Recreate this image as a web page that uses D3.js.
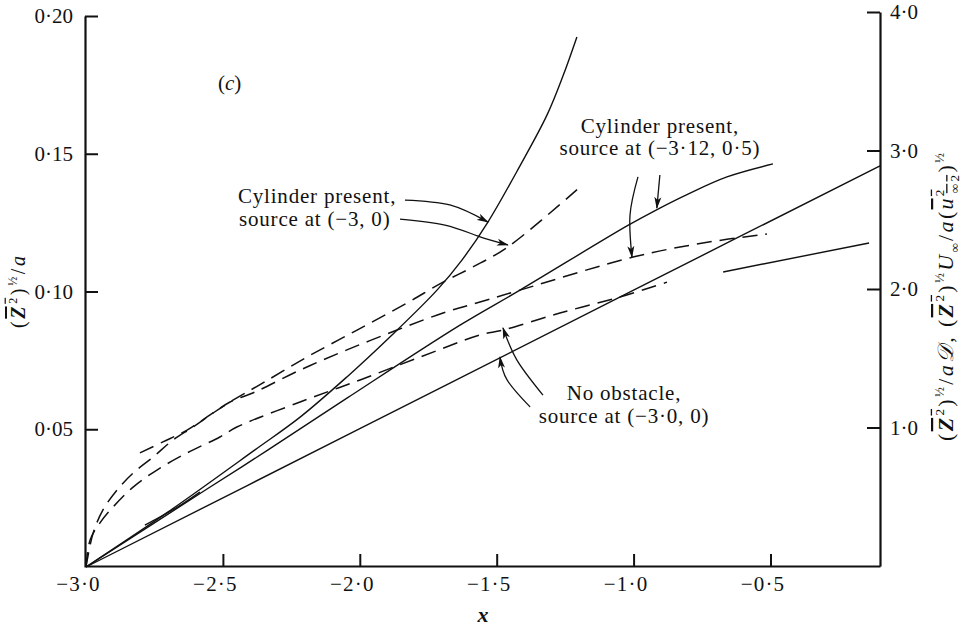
<!DOCTYPE html>
<html>
<head>
<meta charset="utf-8">
<script src="https://cdn.jsdelivr.net/npm/d3@7/dist/d3.min.js"></script>
<style>
body { margin: 0; background: #fff; }
svg text { font-family: "Liberation Serif", "Times New Roman", "DejaVu Serif", serif; fill: #111; }
</style>
</head>
<body>
<svg id="chart" width="963" height="632"></svg>
<script>
/** Tick values for the three axes. */
var X_TICKS  = [-3.0, -2.5, -2.0, -1.5, -1.0, -0.5];
var Y_TICKS  = [0.05, 0.10, 0.15, 0.20];
var Y2_TICKS = [1.0, 2.0, 3.0, 4.0];

/** Solid curves, [x, (Z2)^1/2 / a]. */
var cylSolid = [[-3.0, 0], [-2.7, 0.0200], [-2.383, 0.0425], [-2.218, 0.0544], [-2.047, 0.0690],
    [-1.890, 0.0835], [-1.718, 0.1005], [-1.627, 0.1114], [-1.532, 0.1252], [-1.415, 0.1456],
    [-1.316, 0.1641], [-1.258, 0.1782], [-1.207, 0.1924]];
var offSolid = [[-3.0, 0], [-2.558, 0.0283], [-2.335, 0.0425], [-2.047, 0.0613], [-1.634, 0.0878],
    [-1.415, 0.1005], [-1.024, 0.1238], [-0.904, 0.1303], [-0.805, 0.1352], [-0.659, 0.1416],
    [-0.491, 0.1463]];
var offSolidStart = [[-2.785, 0.0152], [-2.67, 0.0215], [-2.584, 0.0272]];
var freeSolid = [[-3.0, 0], [-2.0, 0.0502], [-1.0, 0.1005], [-0.1, 0.1456]];
var rightSolid = [[-0.673, 0.1071], [-0.140, 0.1176]];

/** Dashed curves. */
var cylDashed = [[-3.0, 0], [-2.974, 0.0123], [-2.938, 0.0207], [-2.887, 0.0279], [-2.828, 0.0341],
    [-2.755, 0.0399], [-2.682, 0.0461], [-2.609, 0.0508], [-2.536, 0.0559], [-2.474, 0.0599],
    [-2.354, 0.0668], [-2.193, 0.0762], [-2.010, 0.0860], [-1.828, 0.0958], [-1.696, 0.1034],
    [-1.587, 0.1089], [-1.459, 0.1162], [-1.196, 0.1379]];
var offDashed = [[-2.803, 0.0414], [-2.719, 0.0454], [-2.631, 0.0497], [-2.536, 0.0559],
    [-2.474, 0.0599], [-2.383, 0.0635], [-2.218, 0.0715], [-2.047, 0.0788], [-1.864, 0.0860],
    [-1.696, 0.0922], [-1.561, 0.0962], [-1.415, 0.1005], [-1.002, 0.1125], [-0.747, 0.1176],
    [-0.513, 0.1209]];
var freeDashed = [[-3.0, 0], [-2.985, 0.0098], [-2.949, 0.0160], [-2.901, 0.0218], [-2.828, 0.0290],
    [-2.741, 0.0352], [-2.631, 0.0414], [-2.511, 0.0472], [-2.449, 0.0508], [-2.218, 0.0599],
    [-1.999, 0.0679], [-1.780, 0.0762], [-1.561, 0.0842], [-1.477, 0.0860], [-1.269, 0.0922],
    [-1.050, 0.0980], [-0.878, 0.1034]];

/** Annotation leaders (data coordinates) and texts. */
var arrows = [
    [[-1.835, 0.1332], [-1.671, 0.1314], [-1.532, 0.1252]],
    [[-1.853, 0.1263], [-1.689, 0.1241], [-1.568, 0.1201], [-1.459, 0.1169]],
    [[-0.984, 0.1416], [-1.013, 0.1278], [-1.006, 0.1125]],
    [[-0.904, 0.1423], [-0.915, 0.1303]],
    [[-1.331, 0.0624], [-1.426, 0.0751], [-1.477, 0.0868]],
    [[-1.378, 0.0581], [-1.462, 0.0679], [-1.488, 0.0762]]
];
var notes = [
    {text: 'Cylinder present,',      x: -2.445, y: 0.1321, anchor: 'start'},
    {text: 'source at (\u22123, 0)',  x: -2.441, y: 0.1238, anchor: 'start'},
    {text: 'Cylinder present,',      x: -0.904, y: 0.1575, anchor: 'middle'},
    {text: 'source at (\u22123\u00b712, 0\u00b75)', x: -0.904, y: 0.1495, anchor: 'middle'},
    {text: 'No obstacle,',           x: -1.035, y: 0.0606, anchor: 'middle'},
    {text: 'source at (\u22123\u00b70, 0)', x: -1.035, y: 0.0523, anchor: 'middle'}
];

var svg = d3.select('#chart');

var x  = d3.scaleLinear().domain([-3.0, -0.1]).range([86, 880]);
var y  = d3.scaleLinear().domain([0, 0.2]).range([567, 16]);
var y2 = d3.scaleLinear().domain([0, 4]).range([566, 12]);

/**
 * Formats a tick value the way the figure prints it: a raised dot and a real minus.
 */
function dotFormat(digits) {
    var f = d3.format('.' + digits + 'f');
    return function(d) { return f(d).replace('.', '\u00b7').replace('-', '\u2212'); };
}

drawAxes();
drawCurves();
drawNotes();
drawTitles();

function drawAxes() {
    var gx = svg.append('g').attr('transform', 'translate(0,566)')
        .call(d3.axisBottom(x).tickValues(X_TICKS).tickSizeInner(-12).tickSizeOuter(0)
            .tickPadding(10).tickFormat(dotFormat(1)));
    var gy = svg.append('g').attr('transform', 'translate(85,0)')
        .call(d3.axisLeft(y).tickValues(Y_TICKS).tickSizeInner(-13).tickSizeOuter(0)
            .tickPadding(12).tickFormat(dotFormat(2)));
    var gr = svg.append('g').attr('transform', 'translate(880,0)')
        .call(d3.axisRight(y2).tickValues(Y2_TICKS).tickSizeInner(-13).tickSizeOuter(0)
            .tickPadding(10).tickFormat(dotFormat(1)));

    [gx, gy, gr].forEach(function(g) {
        g.select('.domain').attr('stroke', '#111').attr('stroke-width', 2.2);
        g.selectAll('.tick line').attr('stroke', '#111').attr('stroke-width', 2);
        g.selectAll('.tick text').attr('font-size', 21).attr('fill', '#111')
            .style('font-family', '"Liberation Serif", "Times New Roman", serif');
    });
    gx.selectAll('.tick text').attr('dx', -8).attr('letter-spacing', 1.2);
    gx.selectAll('.tick line').filter(function(d) { return d === -3.0; }).remove();
}

function drawCurves() {
    var line = d3.line()
        .x(function(d) { return x(d[0]); })
        .y(function(d) { return y(d[1]); })
        .curve(d3.curveCatmullRom.alpha(0.5));

    var solids = [cylSolid, offSolid, offSolidStart, freeSolid, rightSolid];
    var dashed = [cylDashed, offDashed, freeDashed];

    svg.append('g').selectAll('path').data(solids).join('path')
        .attr('d', line).attr('fill', 'none')
        .attr('stroke', '#111').attr('stroke-width', 1.4);
    svg.append('g').selectAll('path').data(dashed).join('path')
        .attr('d', line).attr('fill', 'none')
        .attr('stroke', '#111').attr('stroke-width', 1.5)
        .attr('stroke-dasharray', '15,8');
}

function drawNotes() {
    svg.append('defs').append('marker')
        .attr('id', 'head').attr('viewBox', '0 0 12 8')
        .attr('refX', 11).attr('refY', 4)
        .attr('markerWidth', 12).attr('markerHeight', 8)
        .attr('markerUnits', 'userSpaceOnUse').attr('orient', 'auto')
        .append('path').attr('d', 'M0,0.5 L12,4 L0,7.5 L3,4 Z').attr('fill', '#111');

    var lead = d3.line()
        .x(function(d) { return x(d[0]); })
        .y(function(d) { return y(d[1]); })
        .curve(d3.curveNatural);

    svg.append('g').selectAll('path').data(arrows).join('path')
        .attr('d', lead).attr('fill', 'none')
        .attr('stroke', '#111').attr('stroke-width', 1.3)
        .attr('marker-end', 'url(#head)');

    svg.append('g').selectAll('text').data(notes).join('text')
        .attr('x', function(d) { return x(d.x); })
        .attr('y', function(d) { return y(d.y); })
        .attr('text-anchor', function(d) { return d.anchor; })
        .attr('font-size', 21).attr('letter-spacing', 0.8)
        .text(function(d) { return d.text; });

    var c = svg.append('text').attr('x', x(-2.518)).attr('y', y(0.1731)).attr('font-size', 21);
    c.append('tspan').text('(');
    c.append('tspan').attr('font-style', 'italic').text('c');
    c.append('tspan').text(')');
}

/**
 * Writes a run of pieces into a text element. Each piece may be italic,
 * raised, lowered or overlined.
 */
function rich(t, parts, size) {
    var shift = 0;
    parts.forEach(function(p) {
        var want = p.sup ? -0.42 * size : (p.sub ? 0.28 * size : 0);
        var ts = t.append('tspan').text(p.t).attr('dy', want - shift);
        if (p.dx) ts.attr('dx', p.dx);
        shift = want;
        if (p.it) ts.attr('font-style', 'italic');
        if (p.bold) ts.attr('font-weight', 'bold');
        if (p.sup || p.sub) ts.attr('font-size', size * 0.6);
        if (p.over) ts.style('text-decoration', 'overline');
    });
}

function drawTitles() {
    svg.append('text').attr('x', 483).attr('y', 622)
        .attr('text-anchor', 'middle').attr('font-size', 22)
        .attr('font-style', 'italic').attr('font-weight', 'bold').text('x');

    var yl = svg.append('text')
        .attr('transform', 'translate(25,292) rotate(-90)')
        .attr('text-anchor', 'middle').attr('font-size', 20)
        .attr('textLength', 72).attr('lengthAdjust', 'spacing');
    rich(yl, [
        {t: '('}, {t: 'Z', it: true, bold: true, over: true}, {t: '2', sup: true, over: true},
        {t: ')'}, {t: '\u00bd', sup: true}, {t: '/'}, {t: 'a', it: true}
    ], 20);

    var yr = svg.append('text')
        .attr('transform', 'translate(953,297) rotate(-90)')
        .attr('text-anchor', 'middle').attr('font-size', 22)
        .attr('textLength', 288).attr('lengthAdjust', 'spacing');
    rich(yr, [
        {t: '('}, {t: 'Z', it: true, bold: true, over: true}, {t: '2', sup: true, over: true},
        {t: ')'}, {t: '\u00bd', sup: true}, {t: '/'}, {t: 'a', it: true},
        {t: '\ud835\udc9f', it: true}, {t: ', ('},
        {t: 'Z', it: true, bold: true, over: true}, {t: '2', sup: true, over: true},
        {t: ')'}, {t: '\u00bd', sup: true}, {t: 'U', it: true}, {t: '\u221e', sub: true},
        {t: '/'}, {t: 'a', it: true}, {t: '('}, {t: 'u', it: true, over: true},
        {t: '2', sup: true, over: true}, {t: '\u221e2', sub: true, dx: -6, over: true},
        {t: ')'}, {t: '\u00bd', sup: true}
    ], 22);
}
</script>
</body>
</html>
